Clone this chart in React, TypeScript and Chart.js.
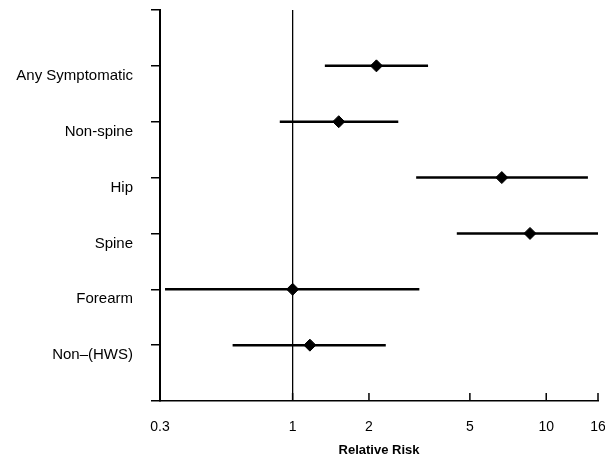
import React, { useEffect, useRef } from 'react';
import { Chart, registerables } from 'chart.js';

Chart.register(...registerables);

const CATEGORIES = ['Any Symptomatic', 'Non-spine', 'Hip', 'Spine', 'Forearm', 'Non\u2013(HWS)'];
const RELATIVE_RISK = [2.14, 1.52, 6.68, 8.63, 1.0, 1.17];
const CI_LOW = [1.34, 0.89, 3.07, 4.44, 0.314, 0.58];
const CI_HIGH = [3.42, 2.61, 14.6, 16, 3.16, 2.33];
const X_TICKS = [0.3, 1, 2, 5, 10, 16];
const REFERENCE_VALUE = 1;
const X_MIN = 0.3;
const X_MAX = 16;

const FONT = "'Liberation Sans', Arial, Helvetica, sans-serif";

export default function App() {
  const canvasRef = useRef<HTMLCanvasElement | null>(null);

  useEffect(() => {
    document.body.style.margin = '0';
    const canvas = canvasRef.current;
    if (!canvas) return;

    const yMax = CATEGORIES.length + 1;

    const ciDatasets = CATEGORIES.map((_, i) => ({
      type: 'scatter' as const,
      label: CATEGORIES[i] + ' CI',
      data: [
        { x: CI_LOW[i], y: i + 1 },
        { x: CI_HIGH[i], y: i + 1 },
      ],
      showLine: true,
      borderColor: '#000',
      borderWidth: 2.5,
      pointRadius: 0,
      order: 2,
    }));

    const refLine = {
      type: 'scatter' as const,
      label: 'ref',
      data: [
        { x: REFERENCE_VALUE, y: 0 },
        { x: REFERENCE_VALUE, y: yMax },
      ],
      showLine: true,
      borderColor: '#000',
      borderWidth: 1,
      pointRadius: 0,
      order: 3,
    };

    const points = {
      type: 'scatter' as const,
      label: 'RR',
      data: RELATIVE_RISK.map((v, i) => ({ x: v, y: i + 1 })),
      pointStyle: 'rectRot',
      pointRadius: 6,
      pointBackgroundColor: '#000',
      pointBorderColor: '#000',
      pointBorderWidth: 1,
      showLine: false,
      order: 0,
    };

    const inwardTicks = {
      id: 'inwardTicks',
      afterDatasetsDraw(chart: any) {
        const xs = chart.scales.x;
        const ctx = chart.ctx;
        const bottom = chart.chartArea.bottom;
        ctx.save();
        ctx.strokeStyle = '#000';
        ctx.lineWidth = 1.5;
        X_TICKS.forEach((v) => {
          const px = xs.getPixelForValue(v);
          ctx.beginPath();
          ctx.moveTo(px, bottom);
          ctx.lineTo(px, bottom - 8);
          ctx.stroke();
        });
        ctx.restore();
      },
    };

    const chart = new Chart(canvas, {
      type: 'scatter',
      data: { datasets: [points, ...ciDatasets, refLine] as any },
      plugins: [inwardTicks],
      options: {
        animation: false,
        responsive: true,
        maintainAspectRatio: false,
        layout: { padding: { top: 10, right: 7, left: 0, bottom: 0 } },
        plugins: {
          legend: { display: false },
          tooltip: { enabled: false },
        },
        scales: {
          x: {
            type: 'logarithmic',
            position: 'bottom',
            min: X_MIN,
            max: X_MAX,
            grid: { display: false, drawTicks: false },
            border: { display: true, color: '#000', width: 1.5 },
            afterBuildTicks: (scale: any) => {
              scale.ticks = X_TICKS.map((v) => ({ value: v }));
            },
            afterFit: (scale: any) => {
              scale.height = 59;
              scale.paddingLeft = 0;
              scale.paddingRight = 0;
            },
            ticks: {
              color: '#000',
              padding: 18,
              autoSkip: false,
              maxRotation: 0,
              font: { family: FONT, size: 14 },
              callback: (value: any) => String(value),
            },
            title: {
              display: true,
              text: 'Relative Risk',
              color: '#000',
              font: { family: FONT, size: 13, weight: 'bold' },
              padding: { top: 0, bottom: 2 },
            },
          },
          y: {
            type: 'linear',
            min: 0,
            max: yMax,
            reverse: true,
            grid: {
              display: true,
              drawOnChartArea: false,
              drawTicks: true,
              tickLength: 9,
              color: '#000',
              lineWidth: 1.5,
            },
            border: { display: true, color: '#000', width: 2 },
            afterBuildTicks: (scale: any) => {
              const t = [];
              for (let v = 0; v <= yMax; v++) t.push({ value: v });
              scale.ticks = t;
            },
            afterFit: (scale: any) => {
              scale.width = 160;
              scale.paddingTop = 0;
              scale.paddingBottom = 0;
            },
            ticks: {
              color: '#000',
              padding: 18,
              labelOffset: 10,
              autoSkip: false,
              font: { family: FONT, size: 15 },
              callback: (value: any) => CATEGORIES[Number(value) - 1] ?? '',
            },
          },
        },
      },
    });

    return () => chart.destroy();
  }, []);

  return (
    <div style={{ width: 605, height: 460, position: 'relative' }}>
      <canvas ref={canvasRef} />
    </div>
  );
}
